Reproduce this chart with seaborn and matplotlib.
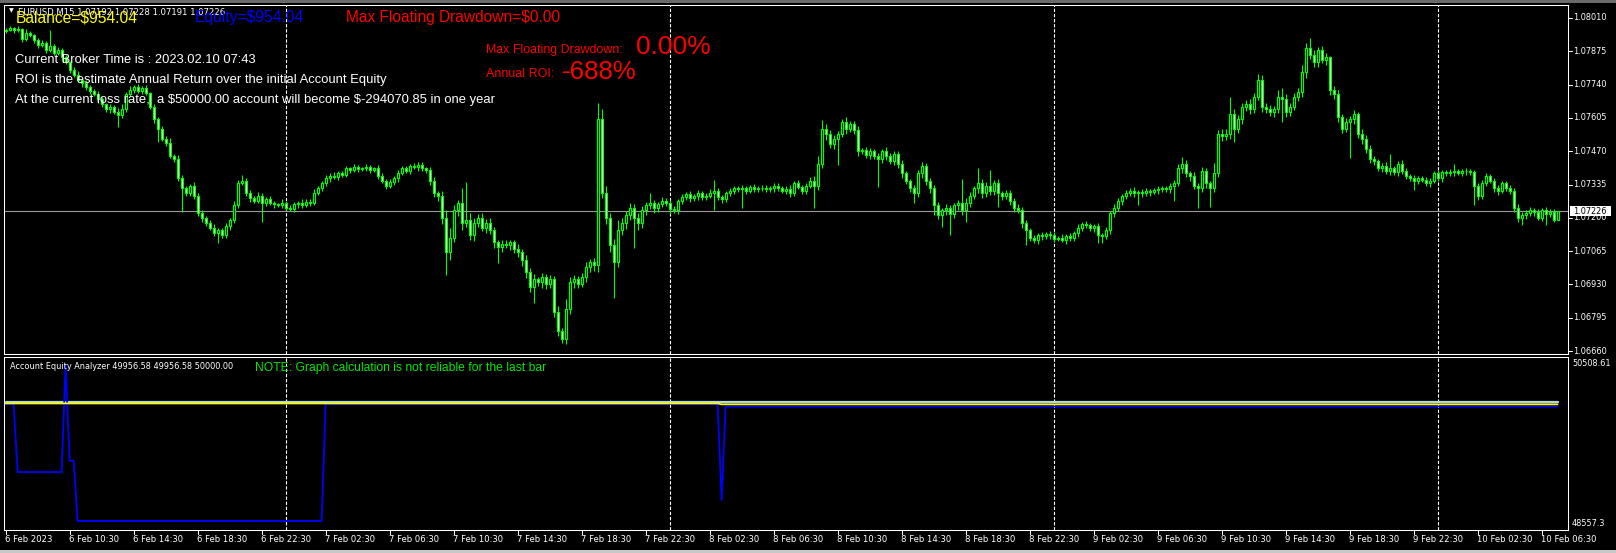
import numpy as np
import pandas as pd
import matplotlib
matplotlib.use("Agg")
import matplotlib.pyplot as plt
import seaborn as sns
from matplotlib.patches import Rectangle

# ---- data (prices in points above 1.07000, 15 min bars from 6 Feb 06:30) ----
first_open = 958
close_pts = [
    962, 968, 960, 965, 925, 950, 940, 920, 900, 910,
    880, 895, 870, 880, 850, 830, 800, 780, 760, 745,
    730, 715, 700, 680, 660, 640, 650, 630, 615, 640,
    700, 720, 730, 715, 725, 705, 650, 600, 560, 520,
    505, 450, 440, 360, 320, 300, 330, 290, 220, 200,
    180, 160, 140, 150, 130, 165, 190, 250, 340, 350,
    300, 280, 270, 290, 260, 275, 260, 255, 250, 262,
    240, 235, 255, 262, 250, 265, 260, 300, 320, 340,
    360, 370, 365, 380, 375, 400, 395, 405, 398, 400,
    405, 395, 400, 370, 350, 330, 345, 360, 380, 400,
    390, 410, 405, 415, 400, 395, 350, 300, 290, 200,
    60, 120, 230, 260, 180, 190, 130, 180, 200, 160,
    180, 150, 100, 80, 95, 90, 100, 75, 60, 30,
    -20, -80, -50, -60, -40, -70, -50, -180, -260, -290,
    -170, -60, -50, -70, -40, 0, 20, 10, 600, 300,
    200, 90, 20, 150, 180, 210, 240, 200, 180, 230,
    250, 260, 240, 255, 270, 262, 235, 230, 270, 285,
    295, 280, 290, 300, 285, 290, 300, 310, 285, 275,
    300, 310, 320, 315, 320, 310, 325, 318, 322, 320,
    315, 320, 330, 322, 310, 318, 300, 340, 325, 310,
    330, 350, 330, 420, 560, 540, 500, 520, 540, 590,
    560, 580, 555, 470, 475, 455, 470, 450, 440, 470,
    450, 430, 460, 420, 380, 350, 320, 300, 380, 410,
    350, 320, 250, 210, 230, 240, 215, 250, 260, 230,
    260, 290, 320, 340, 300, 330, 310, 340, 300, 290,
    300, 270, 240, 230, 180, 150, 120, 110, 130, 125,
    135, 130, 115, 120, 110, 125, 120, 140, 160, 175,
    170, 160, 165, 130, 125, 150, 220, 240, 270, 290,
    300, 310, 300, 305, 300, 310, 305, 312, 315, 320,
    318, 330, 340, 400, 420, 380, 370, 330, 320, 390,
    340, 320, 380, 540, 530, 540, 620, 560, 600, 650,
    660, 640, 690, 760, 650, 640, 630, 640, 690, 680,
    630, 650, 690, 710, 790, 890, 860, 830, 880, 840,
    850, 720, 700, 610, 560, 590, 600, 620, 540, 520,
    480, 440, 430, 400, 410, 390, 400, 385, 420, 390,
    370, 360, 350, 360, 355, 340, 350, 380, 360, 385,
    380, 385, 390, 383, 388, 390, 385, 330, 290, 340,
    370, 350, 320, 310, 340, 320, 310, 240, 200, 210,
    220, 230, 225, 200, 230, 215, 225, 192, 226,
]
wick_up = [
    8, 10, 6, 12, 5, 14, 8, 6, 10, 12,
    8, 66, 10, 14, 8, 12, 6, 10, 14, 8,
    12, 10, 8, 16, 10, 6, 12, 8, 14, 20,
    10, 16, 8, 12, 10, 14, 6, 10, 8, 12,
    10, 18, 8, 14, 12, 10, 8, 16, 10, 12,
    8, 10, 14, 10, 8, 12, 10, 20, 14, 24,
    10, 12, 8, 14, 10, 8, 12, 10, 6, 14,
    8, 12, 10, 8, 14, 10, 12, 16, 10, 8,
    12, 10, 14, 8, 10, 12, 8, 14, 10, 8,
    12, 10, 8, 14, 10, 8, 12, 10, 14, 10,
    12, 8, 14, 10, 12, 8, 10, 14, 10, 20,
    30, 40, 20, 14, 60, 157, 30, 20, 14, 18,
    14, 20, 12, 10, 16, 14, 10, 12, 18, 14,
    20, 16, 24, 12, 18, 14, 20, 16, 24, 12,
    40, 20, 18, 14, 16, 20, 14, 18, 64, 40,
    30, 20, 24, 40, 18, 16, 20, 14, 18, 16,
    14, 39, 12, 10, 14, 12, 10, 14, 8, 12,
    10, 12, 8, 14, 10, 12, 16, 43, 10, 8,
    10, 12, 8, 10, 12, 8, 10, 12, 8, 10,
    12, 8, 10, 12, 8, 10, 14, 10, 12, 8,
    12, 14, 20, 30, 37, 20, 16, 14, 12, 10,
    17, 14, 12, 16, 10, 14, 12, 10, 14, 8,
    18, 14, 10, 12, 16, 10, 8, 12, 14, 18,
    14, 10, 12, 16, 10, 14, 12, 10, 14, 97,
    20, 14, 10, 61, 16, 14, 64, 12, 16, 10,
    12, 14, 10, 16, 12, 10, 8, 12, 10, 14,
    8, 10, 12, 8, 14, 10, 12, 8, 14, 10,
    12, 8, 10, 14, 10, 12, 8, 14, 10, 8,
    12, 10, 14, 8, 10, 12, 8, 10, 12, 8,
    10, 12, 14, 20, 28, 14, 10, 16, 12, 14,
    12, 10, 41, 14, 20, 18, 68, 20, 16, 14,
    16, 20, 14, 23, 20, 14, 16, 12, 28, 38,
    20, 16, 14, 18, 30, 17, 40, 20, 14, 18,
    20, 6, 14, 20, 12, 16, 14, 18, 10, 20,
    16, 14, 12, 10, 14, 16, 57, 12, 10, 14,
    10, 8, 12, 10, 8, 12, 10, 8, 12, 10,
    8, 12, 28, 8, 10, 12, 8, 10, 12, 14,
    10, 8, 12, 14, 10, 8, 12, 10, 14, 12,
    10, 14, 8, 12, 10, 14, 10, 12, 2,
]
wick_dn = [
    8, 6, 10, 8, 12, 10, 8, 12, 10, 6,
    10, 8, 12, 10, 14, 8, 12, 10, 8, 14,
    10, 12, 8, 14, 10, 12, 16, 10, 45, 12,
    10, 8, 14, 10, 12, 8, 10, 14, 51, 10,
    12, 8, 14, 10, 95, 12, 10, 14, 12, 16,
    12, 10, 14, 43, 12, 10, 14, 12, 10, 8,
    12, 14, 10, 8, 76, 12, 10, 14, 8, 12,
    10, 8, 12, 14, 10, 8, 12, 10, 8, 12,
    10, 14, 8, 12, 10, 8, 12, 10, 14, 8,
    10, 12, 8, 14, 10, 12, 8, 10, 14, 8,
    10, 12, 8, 14, 10, 12, 16, 14, 20, 24,
    92, 30, 20, 24, 30, 16, 20, 24, 18, 14,
    20, 16, 24, 64, 18, 14, 20, 16, 20, 24,
    24, 20, 67, 18, 24, 20, 16, 24, 20, 19,
    20, 18, 24, 16, 10, 20, 18, 24, 30, 20,
    24, 30, 146, 20, 18, 24, 20, 124, 30, 20,
    18, 14, 20, 16, 12, 14, 18, 12, 16, 14,
    12, 14, 10, 16, 12, 14, 10, 68, 12, 14,
    10, 12, 14, 10, 77, 12, 10, 14, 12, 10,
    12, 10, 14, 12, 10, 14, 16, 12, 10, 14,
    12, 10, 92, 18, 20, 24, 16, 20, 106, 14,
    20, 14, 16, 18, 12, 14, 16, 12, 114, 16,
    14, 12, 16, 20, 18, 14, 16, 41, 16, 20,
    18, 20, 38, 16, 46, 20, 85, 14, 18, 20,
    46, 16, 14, 18, 20, 14, 16, 18, 55, 16,
    14, 18, 16, 12, 20, 60, 14, 12, 16, 14,
    12, 16, 14, 10, 10, 16, 12, 13, 16, 14,
    12, 14, 16, 33, 28, 12, 14, 16, 12, 18,
    14, 12, 16, 48, 14, 12, 16, 10, 14, 12,
    14, 16, 60, 12, 18, 16, 20, 14, 82, 16,
    20, 75, 14, 16, 18, 14, 20, 51, 16, 20,
    18, 20, 16, 14, 20, 16, 18, 20, 14, 90,
    20, 16, 14, 18, 20, 24, 16, 20, 18, 14,
    20, 24, 18, 20, 16, 14, 149, 18, 16, 20,
    16, 18, 14, 12, 16, 14, 18, 12, 16, 14,
    12, 10, 37, 14, 10, 12, 14, 10, 12, 16,
    12, 10, 14, 10, 12, 14, 10, 78, 16, 14,
    12, 10, 14, 16, 10, 12, 14, 18, 16, 29,
    14, 12, 16, 10, 14, 44, 12, 10, 1,
]
price_ticks = [1010, 875, 740, 605, 470, 335, 200, 65, -70, -205, -340]
last_price = 226
day_breaks = [70, 166, 262, 358]
time_labels = [
    "6 Feb 2023", "6 Feb 10:30", "6 Feb 14:30", "6 Feb 18:30", "6 Feb 22:30",
    "7 Feb 02:30", "7 Feb 06:30", "7 Feb 10:30", "7 Feb 14:30", "7 Feb 18:30",
    "7 Feb 22:30", "8 Feb 02:30", "8 Feb 06:30", "8 Feb 10:30", "8 Feb 14:30",
    "8 Feb 18:30", "8 Feb 22:30", "9 Feb 02:30", "9 Feb 06:30", "9 Feb 10:30",
    "9 Feb 14:30", "9 Feb 18:30", "9 Feb 22:30", "10 Feb 02:30", "10 Feb 06:30",
]

# equity analyzer buffers, as (value, number of bars)
equity_vals = [49980, 49211, 50418, 49340, 48659, 49980, 48895, 49950]
equity_runs = [3, 12, 1, 2, 62, 99, 1, 209]
balance_vals = [49985, 49975]
balance_runs = [179, 210]
initial_equity = 50000
sub_max, sub_min = 50508.61, 48557.3

# ---- figure ----
W, H = 1616, 553
sns.set_style("dark", {"axes.facecolor": "black", "figure.facecolor": "black"})
plt.rcParams['font.family'] = ['DejaVu Sans']

fig = plt.figure(figsize=(W / 100, H / 100), dpi=100)
fig.patch.set_facecolor('black')


def box(x0, y0, x1, y1):
    return [x0 / W, 1 - y1 / H, (x1 - x0) / W, (y1 - y0) / H]


ax = fig.add_axes(box(4, 5, 1568, 354))
ax2 = fig.add_axes(box(4, 357, 1568, 530))
n = len(close_pts)
for a in (ax, ax2):
    a.set_facecolor('black')
    a.set_xlim(-0.4, 390.6)
    a.set_xticks([])
    a.set_yticks([])
    a.grid(False)
    for s in a.spines.values():
        s.set_color('white')
        s.set_linewidth(0.75)
    for d in day_breaks:
        a.axvline(d, color='white', lw=0.8, dashes=(3, 1.6), zorder=1)

# candles
c = np.array(close_pts, dtype=float)
o = np.r_[first_open, c[:-1]]
hi = np.maximum(o, c) + np.array(wick_up)
lo = np.minimum(o, c) - np.array(wick_dn)
idx = np.arange(n)
ax.set_ylim(-352.1, 1062.7)
ax.axhline(last_price, color='#9a9a9a', lw=0.8, zorder=1)
ax.vlines(idx, lo, hi, color='#00ff00', lw=0.8, zorder=2)
face = np.where(c > o, 'black', 'white')
ax.bar(idx, np.abs(c - o), bottom=np.minimum(o, c), width=0.55, color=face,
       edgecolor='#00ff00', linewidth=0.85, zorder=3)

# equity analyzer window
df = pd.DataFrame({
    'bar': idx,
    'equity': np.repeat(equity_vals, equity_runs),
    'balance': np.repeat(balance_vals, balance_runs),
    'initial': np.full(n, initial_equity),
})
ax2.set_ylim(sub_min, sub_max)
sns.lineplot(data=df, x='bar', y='initial', ax=ax2, color='#add8e6', lw=1.6, zorder=3)
sns.lineplot(data=df, x='bar', y='equity', ax=ax2, color='#0000ff', lw=1.3, zorder=4)
sns.lineplot(data=df, x='bar', y='balance', ax=ax2, color='#ffff00', lw=1.3, zorder=5)
ax2.set_xlabel('')
ax2.set_ylabel('')
ax2.set_xticks([])
ax2.set_yticks([])

# ---- axis labels drawn as MT4 does ----
AX = 'DejaVu Sans'
AXS = 5.9


def py(p):  # price in points -> pixel row
    return 5 + (1062.7 - p) / (1062.7 + 352.1) * 349


for p in price_ticks:
    y = py(p)
    fig.add_artist(plt.Line2D([1568 / W, 1572 / W], [1 - y / H] * 2, color='white', lw=0.75))
    fig.text(1573 / W, 1 - y / H, "%.5f" % (1.07 + p * 1e-5), color='white', fontsize=AXS,
             family=AX, va='center', ha='left')
yl = py(last_price)
fig.add_artist(Rectangle((1570 / W, 1 - (yl + 5) / H), 41 / W, 10 / H, transform=fig.transFigure,
                         facecolor='white', edgecolor='none', zorder=5))
fig.text(1573 / W, 1 - yl / H, "%.5f" % (1.07 + last_price * 1e-5), color='black', fontsize=AXS,
         family=AX, va='center', ha='left', zorder=6)

fig.text(1572 / W, 1 - 366.5 / H, "%.2f" % sub_max, color='white', fontsize=AXS, family=AX, va='baseline')
fig.text(1572 / W, 1 - 526 / H, "%.1f" % sub_min, color='white', fontsize=AXS, family=AX, va='baseline')

for k, lab in enumerate(time_labels):
    x = 5.6 + 4 * 16 * k
    fig.add_artist(plt.Line2D([x / W] * 2, [1 - 530 / H, 1 - 534 / H], color='white', lw=0.75))
    fig.text((x - 1) / W, 1 - 542.5 / H, lab, color='white', fontsize=6.1, family=AX,
             va='baseline', ha='left')

# window frame strips
fig.add_artist(Rectangle((0, 1 - 3 / H), 1, 3 / H, transform=fig.transFigure,
                         facecolor='#6a6a6a', edgecolor='none'))
fig.add_artist(Rectangle((0, 0), 1, 3 / H, transform=fig.transFigure,
                         facecolor='#c8c8c8', edgecolor='none'))

# ---- overlay texts ----
renderer = fig.canvas.get_renderer()


def put(txt, x, y, w, color, family='Liberation Sans', size=10, z=7):
    t = fig.text(x / W, 1 - y / H, txt, color=color, family=family, fontsize=size,
                 va='baseline', ha='left', zorder=z, parse_math=False)
    bb = t.get_window_extent(renderer)
    t.set_fontsize(size * w / bb.width)
    return t


fig.text(11 / W, 1 - 11 / H, "\u25bc", color='white', fontsize=4.5, family=AX,
         va='center', ha='center')
put("EURUSD,M15 1.07192 1.07228 1.07191 1.07226", 18, 15, 209, 'white', AX, 6, z=6)
put("Balance=$954.04", 16, 22, 122, '#ffff00')
put("Equity=$954.04", 195, 22, 109, '#0000ff')
put("Max Floating Drawdown=$0.00", 346, 22, 215, '#ff0000')
put("Current Broker Time is : 2023.02.10 07:43", 15, 63, 242, 'white')
put("ROI is the estimate Annual Return over the initial Account Equity", 15, 83, 373, 'white')
put("At the current loss rate,  a $50000.00 account will become $-294070.85 in one year",
    15, 103, 481, 'white')
put("Max Floating Drawdown:", 486, 53.3, 137, '#ff0000')
put("0.00%", 636, 54.3, 75, '#ff0000')
put("Annual ROI:", 486, 77.3, 68, '#ff0000')
put("-688%", 562, 79.3, 75, '#ff0000')
put("Account Equity Analyzer 49956.58 49956.58 50000.00", 10, 369, 225, 'white', AX, 6)
put("NOTE: Graph calculation is not reliable for the last bar", 255, 370.7, 292, '#00e600')

fig.savefig("out.png", dpi=100, facecolor='black')
